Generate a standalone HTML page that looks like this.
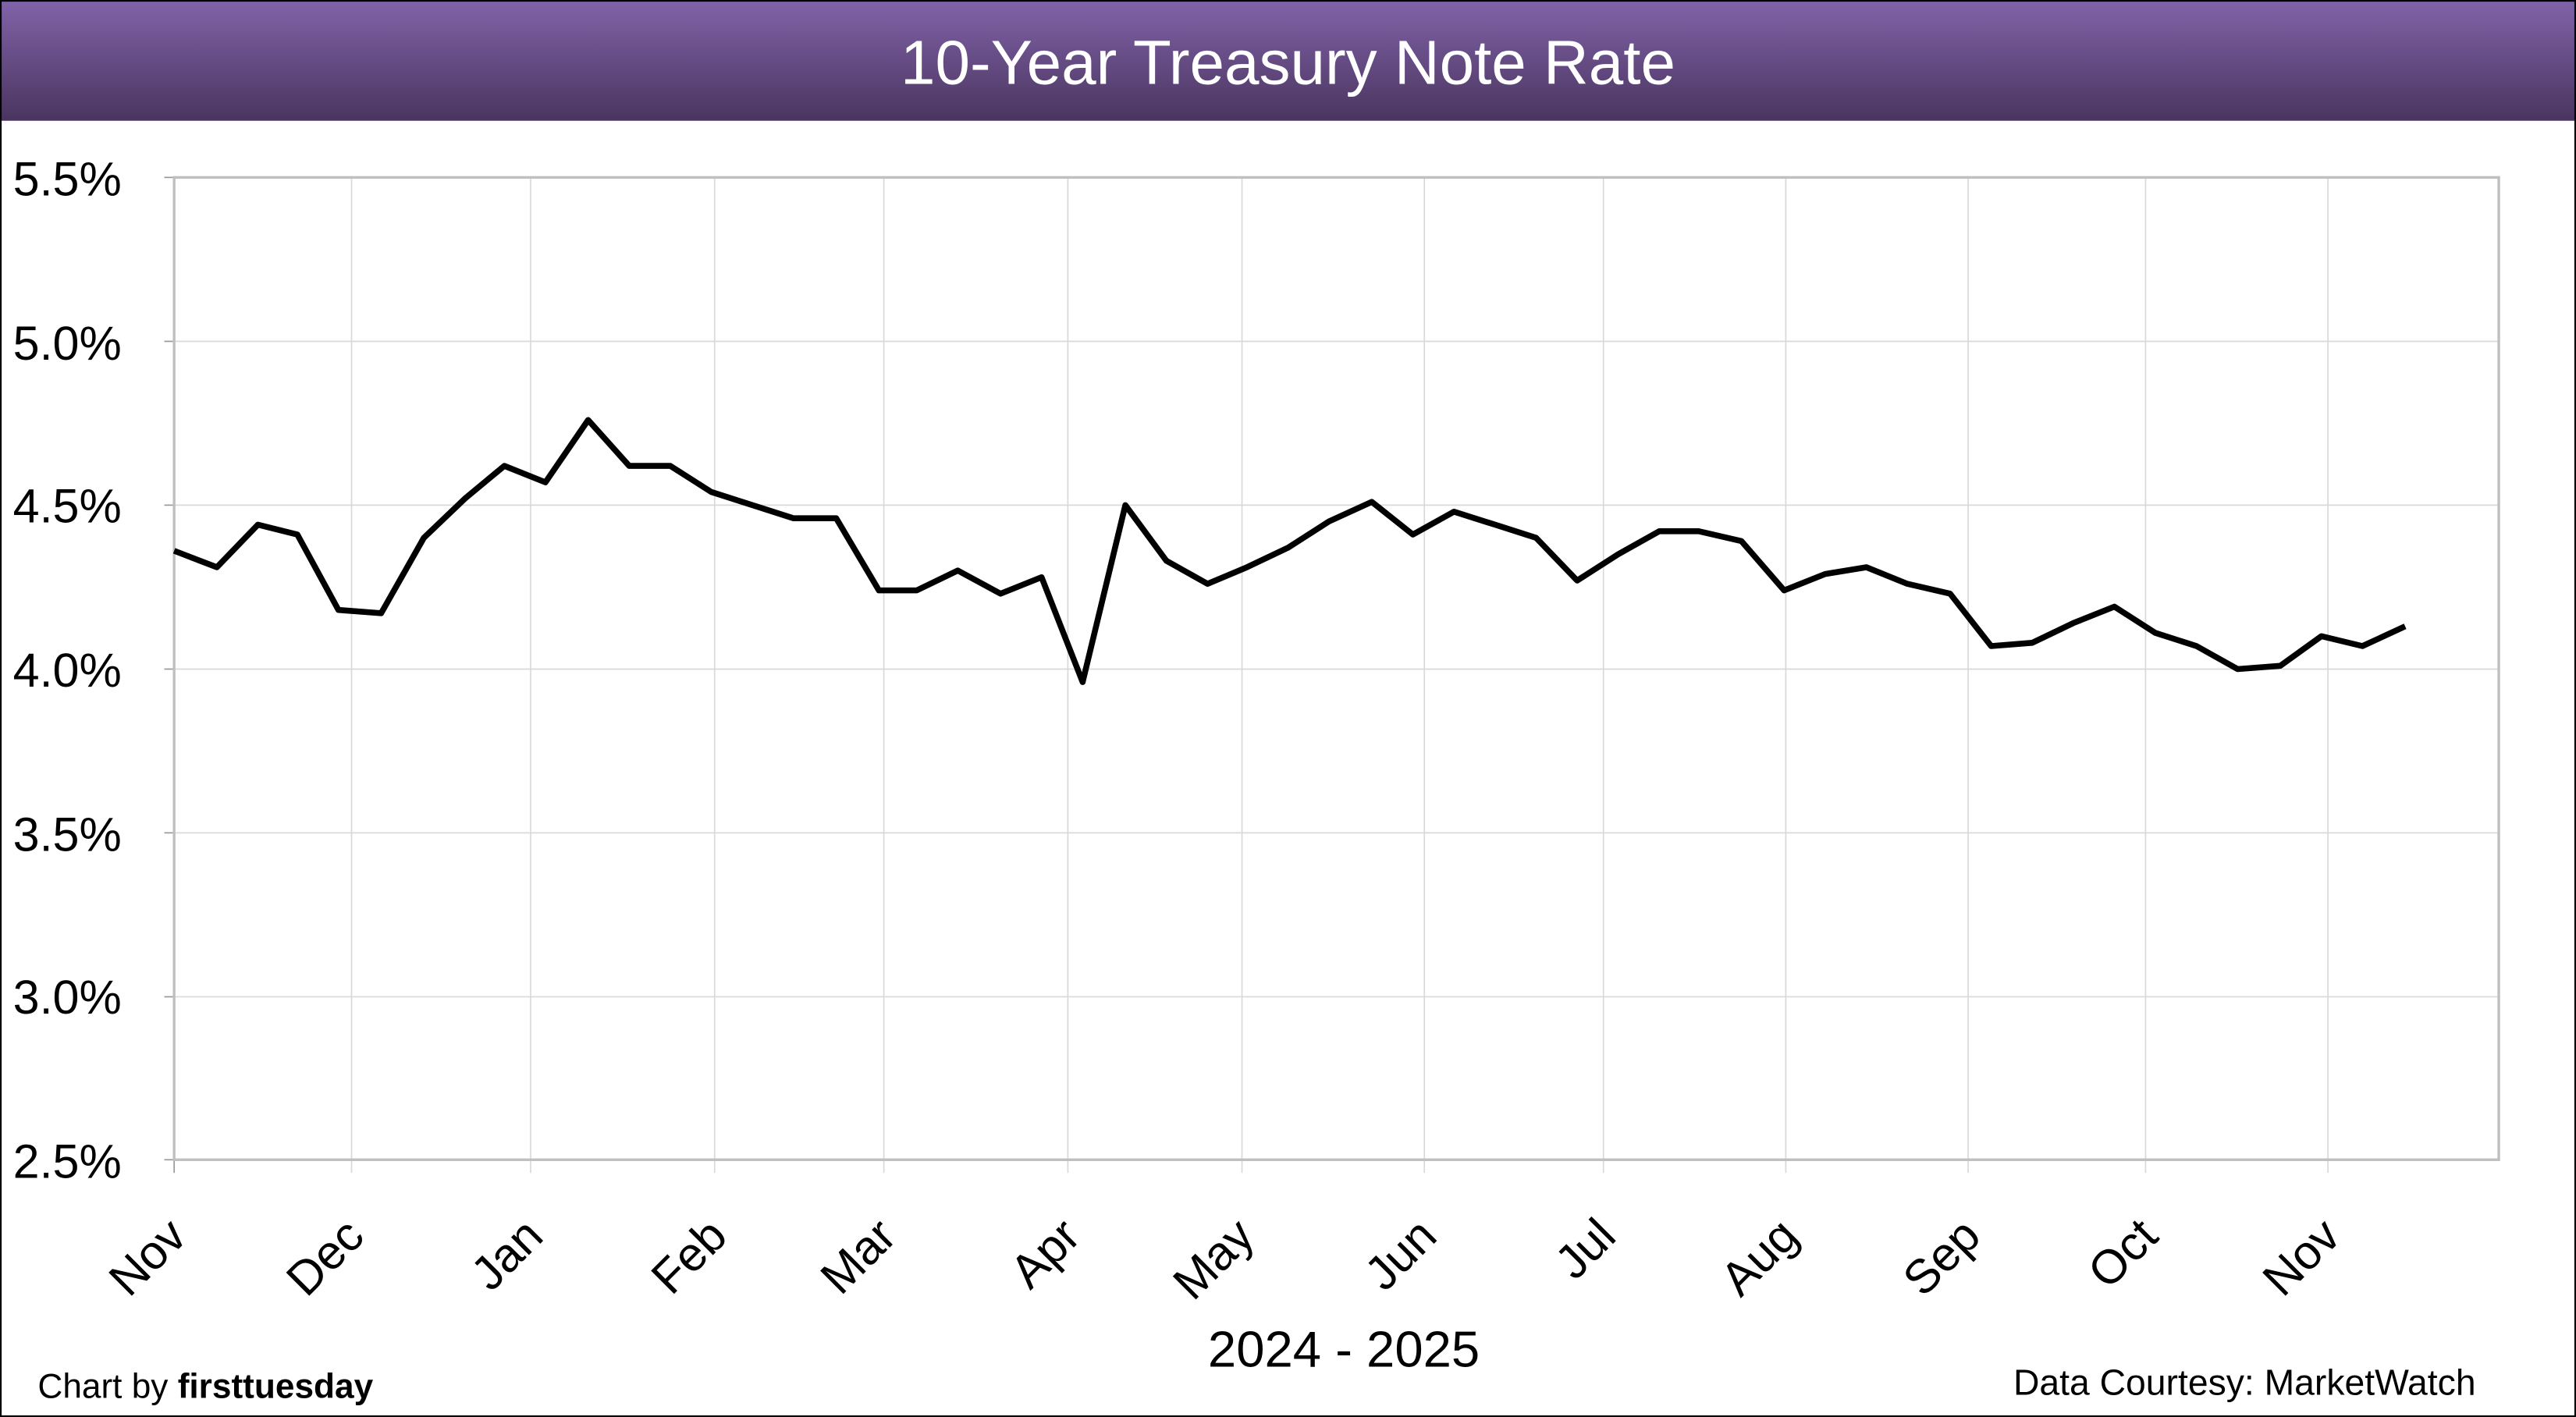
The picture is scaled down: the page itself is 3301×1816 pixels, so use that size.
<!DOCTYPE html>
<html><head><meta charset="utf-8"><style>
html,body{margin:0;padding:0;background:#fff;}
svg{display:block;}
</style></head><body>
<svg width="3301" height="1816" viewBox="0 0 1568 862.6" xmlns="http://www.w3.org/2000/svg" font-family="'Liberation Sans', sans-serif">
<defs>
<linearGradient id="g" x1="0" y1="0" x2="0" y2="1">
<stop offset="0" stop-color="#8163a9"/>
<stop offset="1" stop-color="#4a355f"/>
</linearGradient>
</defs>
<rect x="0" y="0" width="1568" height="862.6" fill="#fff"/>
<rect x="0" y="0" width="1568" height="73.5" fill="url(#g)"/>
<text x="784" y="51" font-size="38" fill="#fff" text-anchor="middle">10-Year Treasury Note Rate</text>
<rect x="0.5" y="0.5" width="1567" height="861.6" fill="none" stroke="#000" stroke-width="1"/>
<g stroke="#d9d9d9" stroke-width="0.8">
<line x1="106" y1="207.8" x2="1521" y2="207.8"/>
<line x1="106" y1="307.5" x2="1521" y2="307.5"/>
<line x1="106" y1="407.3" x2="1521" y2="407.3"/>
<line x1="106" y1="507" x2="1521" y2="507"/>
<line x1="106" y1="606.8" x2="1521" y2="606.8"/>
<line x1="214" y1="108" x2="214" y2="714"/>
<line x1="323" y1="108" x2="323" y2="714"/>
<line x1="435" y1="108" x2="435" y2="714"/>
<line x1="538" y1="108" x2="538" y2="714"/>
<line x1="650" y1="108" x2="650" y2="714"/>
<line x1="756" y1="108" x2="756" y2="714"/>
<line x1="867" y1="108" x2="867" y2="714"/>
<line x1="976" y1="108" x2="976" y2="714"/>
<line x1="1087" y1="108" x2="1087" y2="714"/>
<line x1="1198" y1="108" x2="1198" y2="714"/>
<line x1="1306" y1="108" x2="1306" y2="714"/>
<line x1="1417" y1="108" x2="1417" y2="714"/>
</g>
<g stroke="#999" stroke-width="0.8">
<line x1="100" y1="108" x2="106" y2="108"/>
<line x1="100" y1="207.8" x2="106" y2="207.8"/>
<line x1="100" y1="307.5" x2="106" y2="307.5"/>
<line x1="100" y1="407.3" x2="106" y2="407.3"/>
<line x1="100" y1="507" x2="106" y2="507"/>
<line x1="100" y1="606.8" x2="106" y2="606.8"/>
<line x1="100" y1="706" x2="106" y2="706"/>
<line x1="106" y1="706" x2="106" y2="714"/>
</g>
<rect x="106" y="108" width="1415" height="598" fill="none" stroke="#bfbfbf" stroke-width="1.6"/>
<g font-size="29" fill="#000" text-anchor="end">
<text x="74" y="119">5.5%</text>
<text x="74" y="219">5.0%</text>
<text x="74" y="318">4.5%</text>
<text x="74" y="418">4.0%</text>
<text x="74" y="518">3.5%</text>
<text x="74" y="617">3.0%</text>
<text x="74" y="717">2.5%</text>
</g>
<g font-size="29" fill="#000" text-anchor="end">
<text transform="translate(115,754) rotate(-45)">Nov</text>
<text transform="translate(223,754) rotate(-45)">Dec</text>
<text transform="translate(332,754) rotate(-45)">Jan</text>
<text transform="translate(444,754) rotate(-45)">Feb</text>
<text transform="translate(547,754) rotate(-45)">Mar</text>
<text transform="translate(659,754) rotate(-45)">Apr</text>
<text transform="translate(765,754) rotate(-45)">May</text>
<text transform="translate(876,754) rotate(-45)">Jun</text>
<text transform="translate(985,754) rotate(-45)">Jul</text>
<text transform="translate(1096,754) rotate(-45)">Aug</text>
<text transform="translate(1207,754) rotate(-45)">Sep</text>
<text transform="translate(1315,754) rotate(-45)">Oct</text>
<text transform="translate(1426,754) rotate(-45)">Nov</text>
</g>
<text x="818" y="832" font-size="31" text-anchor="middle" fill="#000">2024 - 2025</text>
<text x="23" y="851" font-size="21" fill="#000">Chart by <tspan font-weight="bold">firsttuesday</tspan></text>
<text x="1507" y="849" font-size="22" fill="#000" text-anchor="end">Data Courtesy: MarketWatch</text>
<polyline fill="none" stroke="#000" stroke-width="3.6" stroke-linejoin="round" points="
106,335.3 132,345.3 157,319.4 181,325.4 206,371.3 232,373.3 258,327.4 283,303.5 307,283.6 332,293.6 358,255.7 383,283.6 408,283.6 433,299.5 458,307.5 483,315.5 509,315.5 535,359.4 558,359.4 583,347.3 609,361.4 634,351.4 659,415.2 685,307.5 710,341.4 735,355.4 759,345.3 784,333.4 809,317.4 835,305.5 860,325.4 885,311.5 910,319.4 935,327.4 960,353.4 985,337.4 1010,323.4 1034,323.4 1060,329.4 1086,359.4 1111,349.4 1136,345.3 1161,355.4 1187,361.4 1212,393.3 1237,391.3 1262,379.3 1287,369.3 1312,385.3 1337,393.3 1362,407.3 1388,405.3 1413,387.3 1438,393.3 1464,381.3"/>
</svg>
</body></html>
